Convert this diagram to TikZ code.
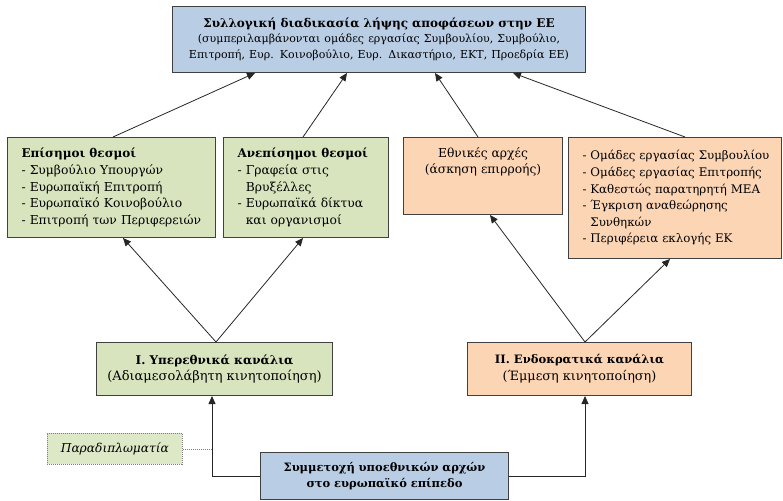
\documentclass[tikz,border=0pt]{standalone}
\usepackage{fontspec}
\setmainfont{DejaVu Serif}
\usetikzlibrary{arrows.meta,calc}
\definecolor{blueF}{HTML}{B9CDE5}
\definecolor{greenF}{HTML}{D7E4BD}
\definecolor{orangeF}{HTML}{FCD5B5}
\definecolor{edgeC}{HTML}{404040}
\definecolor{dotC}{HTML}{7F7F7F}
\tikzset{
  box/.style={draw=edgeC, line width=1pt, anchor=north west, inner ysep=3pt, font=\fontsize{12.3}{16.8}\selectfont},
  lbox/.style={box, align=left, inner xsep=14pt},
  cbox/.style={box, align=center, inner xsep=4pt},
  conn/.style={draw=black!85, line width=0.8pt, -{Triangle[length=8pt,width=7pt]}},
}
\begin{document}
\begin{tikzpicture}[x=1pt,y=-1pt]
\useasboundingbox (0,0) rectangle (783,500);
% top
\node[cbox, fill=blueF, minimum width=413pt, minimum height=66pt, text width=405pt] (top) at (172,6)
 {{\bfseries\fontsize{12}{15}\selectfont Συλλογική διαδικασία λήψης αποφάσεων στην ΕΕ}\\[-1pt]
  {\fontsize{11}{15.5}\selectfont (συμπεριλαμβάνονται ομάδες εργασίας Συμβουλίου, Συμβούλιο,\\ Επιτροπή, Ευρ. Κοινοβούλιο, Ευρ. Δικαστήριο, ΕΚΤ, Προεδρία ΕΕ)}};
% green
\node[lbox, fill=greenF, minimum width=208pt, minimum height=100pt, text width=180pt] (g1) at (7,137)
 {\mbox{\bfseries\fontsize{12}{16.8}\selectfont Επίσημοι θεσμοί}\\\mbox{- Συμβούλιο Υπουργών}\\\mbox{- Ευρωπαϊκή Επιτροπή}\\\mbox{- Ευρωπαϊκό Κοινοβούλιο}\\\mbox{- Επιτροπή των Περιφερειών}};
\node[lbox, fill=greenF, minimum width=165pt, minimum height=100pt, text width=137pt] (g2) at (223,137)
 {\mbox{\bfseries\fontsize{12}{16.8}\selectfont Ανεπίσημοι θεσμοί}\\\mbox{- Γραφεία στις}\\\mbox{\phantom{- }Βρυξέλλες}\\\mbox{- Ευρωπαϊκά δίκτυα}\\\mbox{\phantom{- }και οργανισμοί}};
% orange
\node[box, fill=orangeF, minimum width=159pt, minimum height=77pt] (o1) at (403,137) {};
\node[anchor=north, align=center, inner sep=0pt, font=\fontsize{12.3}{16.8}\selectfont] (o1t) at ($(o1.north)+(0,10)$) {Εθνικές αρχές\\(άσκηση επιρροής)};
\node[lbox, fill=orangeF, minimum width=213pt, minimum height=121pt, text width=185pt, font=\fontsize{11.8}{16.6}\selectfont] (o2) at (568,137)
 {\mbox{- Ομάδες εργασίας Συμβουλίου}\\\mbox{- Ομάδες εργασίας Επιτροπής}\\\mbox{- Καθεστώς παρατηρητή ΜΕΑ}\\\mbox{- Έγκριση αναθεώρησης}\\\mbox{\phantom{- }Συνθηκών}\\\mbox{- Περιφέρεια εκλογής ΕΚ}};
% channels
\node[cbox, fill=greenF, minimum width=236pt, minimum height=53pt, text width=228pt] (c1) at (96,342)
 {{\bfseries\fontsize{12}{16}\selectfont Ι. Υπερεθνικά κανάλια}\\{\fontsize{13}{17}\selectfont (Αδιαμεσολάβητη κινητοποίηση)}};
\node[cbox, fill=orangeF, minimum width=224pt, minimum height=53pt, text width=216pt] (c2) at (467,342)
 {{\bfseries\fontsize{11.6}{16}\selectfont ΙΙ. Ενδοκρατικά κανάλια}\\{\fontsize{12.8}{17}\selectfont (Έμμεση κινητοποίηση)}};
% bottom
\node[cbox, fill=blueF, minimum width=248pt, minimum height=47pt, text width=240pt, font=\bfseries\fontsize{11.5}{16.5}\selectfont] (bot) at (260,452)
 {Συμμετοχή υποεθνικών αρχών\\στο ευρωπαϊκό επίπεδο};
% paradiplomacy
\node[draw=dotC, line width=0.8pt, dash pattern=on 1pt off 1pt, fill=greenF!85, anchor=north west, minimum width=135pt, minimum height=31pt, font=\fontsize{12.2}{15}\selectfont\itshape] (para) at (47,433) {Παραδιπλωματία};
% connectors to top
\draw[conn] ($(g1.north west)+(106,0)$) -- ($(top.south west)+(83,0)$);
\draw[conn] ($(g2.north west)+(80,0)$) -- ($(top.south west)+(175,0)$);
\draw[conn] ($(o1.north west)+(75,0)$) -- ($(top.south west)+(263,0)$);
\draw[conn] ($(o2.north west)+(117,0)$) -- ($(top.south west)+(341,0)$);
% from channels
\coordinate (c1a) at ($(c1.north west)+(120,0)$);
\coordinate (c2a) at ($(c2.north west)+(118,0)$);
\draw[conn] (c1a) -- ($(g1.south west)+(116,0)$);
\draw[conn] (c1a) -- ($(g2.south west)+(80,0)$);
\draw[conn] (c2a) -- ($(o1.south west)+(87,0)$);
\draw[conn] (c2a) -- ($(o2.south west)+(102,0)$);
% bottom connectors
\coordinate (c1b) at ($(c1.south west)+(116,0)$);
\coordinate (c2b) at ($(c2.south west)+(118,0)$);
\draw[conn] (bot.west) -| (c1b);
\draw[conn] (bot.east) -| (c2b);
\draw[draw=dotC, line width=0.8pt, dash pattern=on 1pt off 1pt] (para.east) -- (para.east -| c1b);
\end{tikzpicture}
\end{document}
